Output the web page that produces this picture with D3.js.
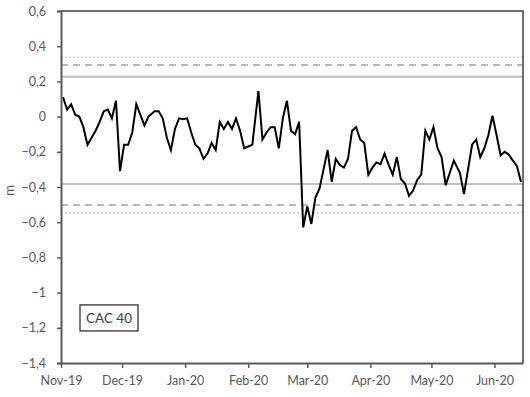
<!DOCTYPE html>
<html>
<head>
<meta charset="utf-8">
<script src="https://cdn.jsdelivr.net/npm/d3@7"></script>
<style>
  body { margin: 0; background: #fff; }
  text { font-family: Lato, "Open Sans", sans-serif; }
</style>
</head>
<body>
<div id="chart"></div>
<script>
// dates of the series (every ~2 days)
const dates = [
  "2019-11-02","2019-11-04","2019-11-06","2019-11-08","2019-11-10","2019-11-12","2019-11-14",
  "2019-11-18","2019-11-20","2019-11-22","2019-11-24","2019-11-26","2019-11-28","2019-11-30",
  "2019-12-02","2019-12-04","2019-12-06","2019-12-08","2019-12-10","2019-12-12","2019-12-14",
  "2019-12-17","2019-12-19","2019-12-21","2019-12-23","2019-12-25","2019-12-27","2019-12-29",
  "2019-12-31","2020-01-02","2020-01-04","2020-01-06","2020-01-08","2020-01-10","2020-01-12",
  "2020-01-14","2020-01-16","2020-01-18","2020-01-20","2020-01-22","2020-01-24","2020-01-26",
  "2020-01-28","2020-01-30","2020-02-01","2020-02-03","2020-02-06","2020-02-08","2020-02-10",
  "2020-02-12","2020-02-14","2020-02-16","2020-02-18","2020-02-20","2020-02-22","2020-02-24",
  "2020-02-26","2020-02-28","2020-03-01","2020-03-03","2020-03-05","2020-03-07","2020-03-09",
  "2020-03-11","2020-03-13","2020-03-15","2020-03-17","2020-03-19","2020-03-21","2020-03-23",
  "2020-03-25","2020-03-27","2020-03-29","2020-03-31","2020-04-02","2020-04-04","2020-04-06",
  "2020-04-08","2020-04-10","2020-04-12","2020-04-14","2020-04-16","2020-04-18","2020-04-20",
  "2020-04-22","2020-04-24","2020-04-26","2020-04-28","2020-04-30","2020-05-02","2020-05-04",
  "2020-05-06","2020-05-08","2020-05-12","2020-05-15","2020-05-17","2020-05-19","2020-05-21",
  "2020-05-23","2020-05-25","2020-05-27","2020-05-29","2020-05-31","2020-06-02","2020-06-04",
  "2020-06-06","2020-06-08","2020-06-10","2020-06-12","2020-06-14"
]
const values = [
  0.11, 0.04, 0.07, 0.01, 0.00, -0.06, -0.16,
  -0.08, -0.03, 0.03, 0.04, -0.01, 0.09, -0.31,
  -0.16, -0.16, -0.09, 0.07, 0.01, -0.05, 0.00,
  0.03, 0.03, -0.01, -0.12, -0.19, -0.07, -0.01,
  -0.015, -0.01, -0.09, -0.16, -0.18, -0.24, -0.21,
  -0.15, -0.19, -0.03, -0.07, -0.03, -0.07, -0.01,
  -0.08, -0.18, -0.17, -0.16, 0.145, -0.13, -0.09,
  -0.06, -0.06, -0.18, -0.01, 0.09, -0.08, -0.10,
  -0.03, -0.63, -0.51, -0.61, -0.46, -0.41, -0.30,
  -0.19, -0.37, -0.24, -0.275, -0.29, -0.24, -0.08,
  -0.06, -0.13, -0.15, -0.33, -0.29, -0.26, -0.27,
  -0.21, -0.275, -0.33, -0.23, -0.355, -0.38, -0.45,
  -0.42, -0.36, -0.33, -0.08, -0.13, -0.06, -0.18,
  -0.23, -0.39, -0.25, -0.32, -0.44, -0.30, -0.16,
  -0.13, -0.23, -0.18, -0.105, 0.005, -0.105, -0.22,
  -0.20, -0.215, -0.25, -0.28, -0.37
]
// horizontal reference levels
const solidLevels = [0.227, -0.383]
const dashedLevels = [0.293, -0.502]
const dottedLevels = [0.337, -0.546]

const yTicks = [0.6, 0.4, 0.2, 0, -0.2, -0.4, -0.6, -0.8, -1, -1.2, -1.4]
const monthTicks = ["2019-11-01","2019-12-01","2020-01-01","2020-02-01","2020-03-01","2020-04-01","2020-05-01","2020-06-01"]
const xStart = "2019-11-01", xEnd = "2020-06-15"
const seriesName = "CAC 40"
const yTitle = "m"

const width = 530, height = 397
const margin = { top: 11, right: 7, bottom: 34, left: 61 }
const parse = d3.timeParse("%Y-%m-%d")
const data = dates.map((d, i) => ({ date: parse(d), value: values[i] }))

const x = d3.scaleTime()
  .domain([parse(xStart), parse(xEnd)])
  .range([margin.left, width - margin.right])
const y = d3.scaleLinear()
  .domain([-1.4, 0.6])
  .range([height - margin.bottom, margin.top])

const svg = d3.select("#chart").append("svg")
  .attr("width", width)
  .attr("height", height)

const fmt = v => (v === 0 ? "0" : d3.format("")(+v.toFixed(1)).replace(".", ","))
const tickColor = "#595959"

// reference lines
const refs = [
  ...solidLevels.map(v => ({ v, dash: null, color: "#c0c0c0", w: 2 })),
  ...dashedLevels.map(v => ({ v, dash: "7,5", color: "#b8b8b8", w: 2 })),
  ...dottedLevels.map(v => ({ v, dash: "2,2", color: "#c8c8c8", w: 1.5 }))
]
svg.append("g").selectAll("line").data(refs).join("line")
  .attr("x1", margin.left)
  .attr("x2", width - margin.right)
  .attr("y1", d => y(d.v))
  .attr("y2", d => y(d.v))
  .attr("stroke", d => d.color)
  .attr("stroke-width", d => d.w)
  .attr("stroke-dasharray", d => d.dash)

// series line
svg.append("path")
  .datum(data)
  .attr("fill", "none")
  .attr("stroke", "#000")
  .attr("stroke-width", 2)
  .attr("stroke-linejoin", "miter")
  .attr("d", d3.line().x(d => x(d.date)).y(d => y(d.value)))

// frame top and right
svg.append("path")
  .attr("d", `M${margin.left},${y(0.6)}H${width - margin.right}V${y(-1.4)}`)
  .attr("fill", "none")
  .attr("stroke", "#404040")
  .attr("stroke-width", 1.5)

// y axis
const yAxis = svg.append("g")
  .attr("transform", `translate(${margin.left},0)`)
  .call(d3.axisLeft(y).tickValues(yTicks).tickFormat(fmt).tickSize(4).tickPadding(11))
yAxis.select(".domain").attr("stroke", tickColor).attr("stroke-width", 2)
yAxis.selectAll(".tick line").attr("stroke", tickColor).attr("stroke-width", 1.5)
yAxis.selectAll(".tick text").attr("fill", tickColor).attr("font-size", 12.5)
  .style("font-family", "Lato, 'Open Sans', sans-serif")

// x axis
const xAxis = svg.append("g")
  .attr("transform", `translate(0,${y(-1.4)})`)
  .call(d3.axisBottom(x).tickValues(monthTicks.map(parse))
    .tickFormat(d3.timeFormat("%b-%y")).tickSize(5).tickSizeOuter(0).tickPadding(8))
xAxis.select(".domain").attr("stroke", tickColor).attr("stroke-width", 2)
xAxis.selectAll(".tick line").attr("stroke", tickColor).attr("stroke-width", 1.5)
xAxis.selectAll(".tick text").attr("fill", tickColor).attr("font-size", 12.5)
  .style("font-family", "Lato, 'Open Sans', sans-serif")

// y title
svg.append("text")
  .attr("transform", `translate(13.5,${y(-0.42)}) rotate(-90)`)
  .attr("text-anchor", "middle")
  .attr("fill", tickColor)
  .attr("font-size", 13.5)
  .text(yTitle)

// series label box
const lx = margin.left + 19, ly = y(-1.07)
svg.append("rect")
  .attr("x", lx).attr("y", ly)
  .attr("width", 58).attr("height", 26)
  .attr("fill", "#fff")
  .attr("stroke", "#222")
  .attr("stroke-width", 1.2)
svg.append("text")
  .attr("x", lx + 29).attr("y", ly + 13)
  .attr("text-anchor", "middle")
  .attr("dominant-baseline", "central")
  .attr("fill", "#404040")
  .attr("font-size", 13.5)
  .text(seriesName)
</script>
</body>
</html>
